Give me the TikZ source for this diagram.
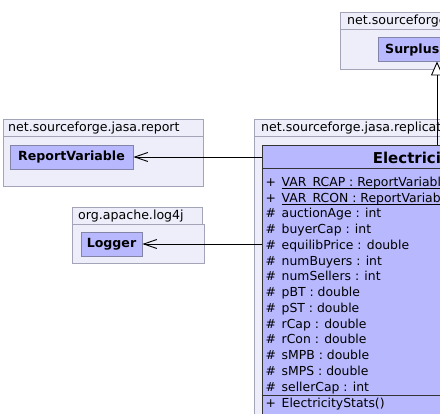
\documentclass[tikz,border=0pt]{standalone}
\usepackage{fontspec}
\setmainfont{DejaVu Sans}
\usetikzlibrary{arrows.meta}
\definecolor{pkgfill}{HTML}{EEEEFB}
\definecolor{pkgdraw}{HTML}{A4A4B8}
\definecolor{clsfill}{HTML}{B8B8FF}
\definecolor{clsdraw}{HTML}{8484A8}
\tikzset{
  pkgbox/.style={draw=pkgdraw, fill=pkgfill, line width=0.9pt},
  clsbox/.style={draw=clsdraw, fill=clsfill, line width=0.9pt, inner sep=0pt},
  pkglabel/.style={anchor=base west, inner sep=0pt, font=\fontsize{12.6}{15}\selectfont},
  clsname/.style={inner sep=0pt, font=\fontsize{12.6}{15}\selectfont\bfseries},
  member/.style={anchor=base west, inner sep=0pt, font=\fontsize{12.4}{15}\selectfont},
  dep/.style={line width=0.9pt, -{Straight Barb[length=13pt,width=9pt,line width=0.9pt]}},
  gen/.style={line width=0.9pt, -{Triangle[open,length=14pt,width=12pt,line width=0.9pt,fill=white]}},
}
\begin{document}
\begin{tikzpicture}[x=1pt,y=-1pt]
\useasboundingbox (0,0) rectangle (440,414);
\clip (0,0) rectangle (440,414);
\fill[white] (0,0) rectangle (440,414);

% ---- top package (Surplus)
\path[pkgbox] (340,12) rectangle (470,29);
\path[pkgbox] (340,29) rectangle (470,69);
\node[pkglabel] (pkgtop) at (347,25) {net.sourceforge.jasa.market};
\node[clsbox, minimum width=68pt, minimum height=24pt] (surplus) at (412,49) {};
\node[clsname, anchor=base west] (surplust) at (385,53.5) {Surplus};

% ---- report package
\path[pkgbox] (3,119) rectangle (203,136);
\path[pkgbox] (3,136) rectangle (203,186);
\node[pkglabel] (pkgrep) at (8,132) {net.sourceforge.jasa.report};
\node[clsbox, minimum width=123pt, minimum height=24pt] (rv) at (71.5,157) {};
\node[clsname] (rvt) at (71.5,157) {ReportVariable};

% ---- log4j package
\path[pkgbox] (72,207) rectangle (202,224);
\path[pkgbox] (72,224) rectangle (204,263);
\node[pkglabel] (pkglog) at (78,220) {org.apache.log4j};
\node[clsbox, minimum width=61pt, minimum height=24pt] (logger) at (111.5,244) {};
\node[clsname] (loggert) at (111.5,244) {Logger};

% ---- replication package
\path[pkgbox] (254,119) rectangle (640,136);
\path[pkgbox] (254,136) rectangle (640,440);
\node[pkglabel] (pkgrepl) at (261,132) {net.sourceforge.jasa.replication.electricity};

% ---- ElectricityStats class
\node[draw=black!80, fill=clsfill, line width=0.9pt, minimum width=350pt, minimum height=290pt, inner sep=0pt] (elec) at (437,290) {};
\node[anchor=base, inner sep=0pt, font=\fontsize{15}{18}\selectfont\bfseries] (elect) at (437.5,164) {ElectricityStats};
\draw[black!80, line width=0.9pt] (elec.west |- 0,168) -- (elec.east |- 0,168);
\draw[black!80, line width=0.9pt] (elec.west |- 0,395.5) -- (elec.east |- 0,395.5);

\foreach \i/\v/\t in {0/+/{VAR\_RCAP : ReportVariable},1/+/{VAR\_RCON : ReportVariable},
  2/\#/{auctionAge : int},3/\#/{buyerCap : int},4/\#/{equilibPrice : double},
  5/\#/{numBuyers : int},6/\#/{numSellers : int},7/\#/{pBT : double},8/\#/{pST : double},
  9/\#/{rCap : double},10/\#/{rCon : double},11/\#/{sMPB : double},12/\#/{sMPS : double},
  13/\#/{sellerCap : int}}{
  \node[member] (v\i) at (265.5,{186.5+15.75*\i}) {\v};
  \node[member] (m\i) at (281.5,{186.5+15.75*\i}) {\t};
}
\draw[line width=0.8pt] ([yshift=-2pt]m0.base west) -- ([yshift=-2pt]m0.base east);
\draw[line width=0.8pt] ([yshift=-2pt]m1.base west) -- ([yshift=-2pt]m1.base east);
\node[member] (vc) at (265.5,407.5) {+};
\node[member] (mc) at (281.5,407.5) {ElectricityStats()};

% ---- connectors
\draw[dep] (rv.east -| elec.west) -- (rv.east);
\draw[dep] (logger.east -| elec.west) -- (logger.east);
\coordinate (g) at (437,145);
\draw[gen] (g) -- (g |- surplus.south);
\end{tikzpicture}
\end{document}
